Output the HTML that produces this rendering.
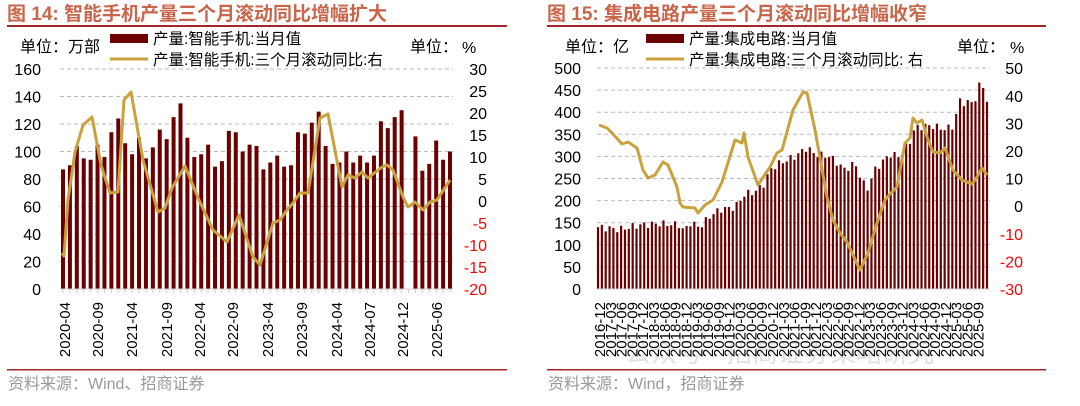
<!DOCTYPE html><html><head><meta charset="utf-8"><style>
body{margin:0;background:#fff;width:1080px;height:401px;overflow:hidden}
text{font-family:"Liberation Sans","Noto Sans CJK SC",sans-serif}
</style></head><body>
<svg id="s" width="1080" height="401" xmlns="http://www.w3.org/2000/svg"></svg>
<script>
const S=document.getElementById('s');let h='';
const BAR='#6B0000',LN='#C9A23E',RED='#FF0000';
const SER='font-family="Liberation Serif,Noto Serif CJK SC,serif"';
function t(x,y,s,sz,fill,anchor,extra){h+=`<text x="${x}" y="${y}" font-size="${sz}" fill="${fill||'#000'}" text-anchor="${anchor||'start'}" ${extra||''}>${s}</text>`}
function poly(pts){h+=`<polyline fill="none" stroke="${LN}" stroke-width="3" stroke-linejoin="round" points="${pts.map(p=>p.join(',')).join(' ')}"/>`}
// titles
t(7,20,'图 14:  智能手机产量三个月滚动同比增幅扩大',19,'#C8664B','start','font-weight="bold" '+SER);
t(547,20,'图 15:  集成电路产量三个月滚动同比增幅收窄',19,'#C8664B','start','font-weight="bold" '+SER);
h+=`<rect x="7" y="25" width="500" height="2" fill="#A0282A"/><rect x="547" y="25" width="499" height="2" fill="#A0282A"/>`;
h+=`<rect x="7" y="369" width="500" height="1.5" fill="#A0282A"/><rect x="547" y="369" width="499" height="1.5" fill="#A0282A"/>`;
t(8,389,'资料来源：Wind、招商证券',16,'#999','start',SER);t(548,389,'资料来源：Wind，招商证券',16,'#999','start',SER);
// ===== Left chart
t(20,52,'单位：万部',16,'#000','start',SER);t(410,52,'单位：',16,'#000','start',SER);t(462,53,'%',16);
h+=`<rect x="110" y="34" width="38" height="9" fill="${BAR}"/><line x1="110" y1="59" x2="148" y2="59" stroke="${LN}" stroke-width="3"/>`;
t(153,44,'产量:智能手机:当月值',15.5,'#000','start',SER);t(153,65,'产量:智能手机:三个月滚动同比:右',15.5,'#000','start',SER);
for(let i=0;i<=8;i++){const y=289-i*27.5;if(i>0)h+=`<line x1="60" y1="${y}" x2="453" y2="${y}" stroke="#bbb" stroke-dasharray="4,3"/>`;t(41,y+6,i*20,16,'#000','end');}
for(let i=0;i<=10;i++){const v=-20+i*5,y=289-i*22;t(487,y+6,v,16,v<0?RED:'#000','end');}
const lv=[87,90,104,95,94,105,96,114,124,106,98,110,95,103,116,109,125,135,110,96,98,105,89,93,115,114,100,105,104,87,92,97,89,90,114,113,121,129,104,91,92,100,92,97,92,97,122,117,125,130,null,111,86,91,108,94,100];
const sp=(450-63)/(lv.length-1);
lv.forEach((v,i)=>{if(v==null)return;const x=63+i*sp;h+=`<rect x="${x-2}" y="${289-v*1.375}" width="4" height="${v*1.375}" fill="${BAR}"/>`});
h+=`<line x1="60" y1="289" x2="453" y2="289" stroke="#ccc"/>`;
for(let i=0;i<lv.length;i++){const x=63+i*sp;h+=`<line x1="${x}" y1="289" x2="${x}" y2="293" stroke="#ccc"/>`}
poly([[62,253],[64,256],[68,200],[75,152],[83,125],[92,117],[101,165],[110,193],[118,192],[124,100],[131,92],[143,160],[158,212],[165,208],[172,188],[185,166],[199,200],[213,230],[227,242],[239,215],[253,257],[260,265],[273,223],[280,220],[287,210],[293,203],[300,193],[308,193],[320,118],[328,114],[342,187],[348,175],[355,178],[362,172],[368,178],[382,167],[387,165],[393,170],[403,197],[408,207],[415,202],[423,210],[430,202],[437,200],[450,180]]);
['2020-04','2020-09','2021-04','2021-09','2022-04','2022-09','2023-04','2023-09','2024-04','2024-07','2024-12','2025-06'].forEach((s,i)=>{const xs=[65,98,132,167,200,233,268,302,337,370,403,437];t(xs[i]+5,302,s,15,'#000','end',`transform="rotate(-90 ${xs[i]+5} 302)"`)});
// ===== Right chart
t(565,52,'单位：亿',16,'#000','start',SER);t(957,52,'单位：',16,'#000','start',SER);t(1010,53,'%',16);
h+=`<rect x="646" y="34" width="38" height="9" fill="${BAR}"/><line x1="646" y1="59" x2="684" y2="59" stroke="${LN}" stroke-width="3"/>`;
t(689,44,'产量:集成电路:当月值',15.5,'#000','start',SER);t(689,65,'产量:集成电路:三个月滚动同比:  右',15.5,'#000','start',SER);
for(let i=0;i<=10;i++){const y=289-i*22.1;if(i>0)h+=`<line x1="597" y1="${y}" x2="990" y2="${y}" stroke="#bbb" stroke-dasharray="4,3"/>`;t(581,y+6,i*50,16,'#000','end');}
for(let i=0;i<=8;i++){const v=-30+i*10,y=289-i*27.6;t(1023,y+6,v,16,v<0?RED:'#000','end');}
const kf=[[598,140],[620,135],[640,145],[660,148],[680,145],[684,130],[690,150],[700,140],[710,165],[720,180],[735,185],[745,215],[755,220],[765,240],[770,270],[780,285],[795,300],[807,320],[815,305],[830,300],[845,270],[855,285],[862,245],[867,225],[875,270],[890,305],[900,300],[910,335],[915,365],[930,370],[945,362],[955,370],[958,430],[965,420],[975,425],[977,450],[982,470],[987,425]];
function iv(x){for(let k=0;k<kf.length-1;k++){if(x>=kf[k][0]&&x<=kf[k+1][0]){const f=(x-kf[k][0])/(kf[k+1][0]-kf[k][0]);return kf[k][1]+f*(kf[k+1][1]-kf[k][1])}}return 425}
const n=102,sp2=(987-598)/(n-1);
for(let i=0;i<n;i++){const x=598+i*sp2;let v=iv(x)+Math.sin(i*2.3)*8;h+=`<rect x="${x-1.1}" y="${289-v*0.442}" width="2.2" height="${v*0.442}" fill="${BAR}"/>`}
h+=`<line x1="597" y1="289" x2="990" y2="289" stroke="#ccc"/>`;
t(625,362,'公众号 · 招商证券策略研究',26,'rgba(120,120,120,0.22)');
poly([[599,125],[607,128],[612,133],[622,144],[628,142],[637,148],[643,170],[648,178],[655,175],[663,162],[668,165],[677,187],[680,203],[683,207],[695,208],[698,213],[705,205],[713,200],[722,182],[735,140],[742,143],[744,133],[748,157],[758,185],[770,167],[777,153],[782,150],[793,110],[803,92],[807,93],[815,130],[827,197],[833,220],[840,233],[847,242],[860,270],[868,253],[877,223],[885,200],[890,194],[897,187],[905,143],[910,138],[913,118],[917,123],[922,120],[928,140],[933,152],[940,153],[945,148],[953,170],[962,180],[972,184],[977,177],[982,168],[987,175]]);
const ml=[];let y=2016,m=12;for(let i=0;i<36;i++){ml.push(y+'-'+String(m).padStart(2,'0'));m+=3;if(m>12){m-=12;y++}}
ml.forEach((s,i)=>{const x=600+i*(1315/3+540-600)/35+5;t(x,302,s,15,'#000','end',`transform="rotate(-90 ${x} 302)"`)});
S.innerHTML=h;
</script></body></html>
